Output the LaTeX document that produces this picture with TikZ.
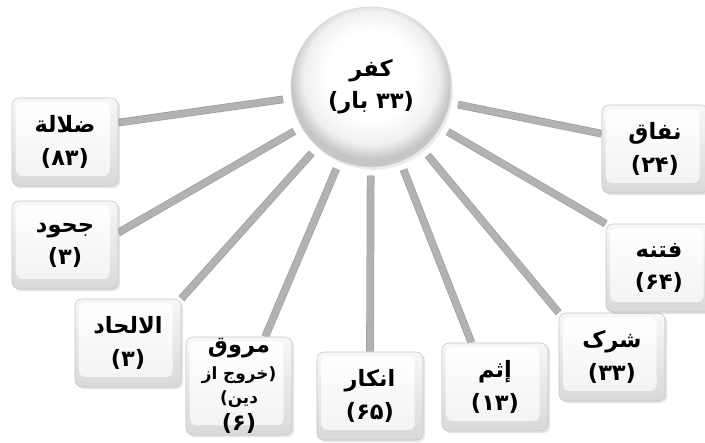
\documentclass[tikz,border=0pt]{standalone}
\usepackage{fontspec}
\usetikzlibrary{shadows,backgrounds}
\newfontfamily\farsi[Script=Arabic]{DejaVu Sans}
\newfontfamily\latn{DejaVu Sans}
\TeXXeTstate=1
\newcommand{\fa}[1]{\beginR #1\endR}
\newcommand{\lp}{{\latn(}}
\newcommand{\rp}{{\latn)}}
\pgfdeclareradialshading{orb}{\pgfpoint{0bp}{5bp}}{color(0bp)=(white); color(14bp)=(white); color(21bp)=(gray!12); color(25bp)=(gray!45); color(50bp)=(gray!45)}
\tikzset{
  keycap/.style={draw=gray!45, rounded corners=5pt, top color=gray!6, bottom color=gray!30,
    minimum width=2.65cm, minimum height=2.2cm, align=center, inner sep=1pt,
    drop shadow={opacity=0.2, shadow xshift=1.5pt, shadow yshift=-1.5pt},
    path picture={\shade[rounded corners=4pt, top color=white, bottom color=gray!10]
      ([shift={(3pt,-3pt)}]path picture bounding box.north west) rectangle
      ([shift={(-6pt,7pt)}]path picture bounding box.south east);}},
  link/.style={draw=gray!75, line width=0.5pt, double=gray!60, double distance=4.5pt, shorten <=6pt}
}

\begin{document}
\begin{tikzpicture}[x=0.025cm,y=-0.025cm,every node/.style={font=\farsi\bfseries\fontsize{16}{23}\selectfont}]
  \useasboundingbox (0,0) rectangle (705,442);
  \node[circle, minimum size=4cm, shading=orb, draw=gray!30, align=center,
        drop shadow={opacity=0.15, shadow xshift=1.5pt, shadow yshift=-2pt}] (kufr) at (371,87) {\fa{کفر}\\\lp\fa{۳۳ بار}\rp};
  \node[keycap] (zalala) at (65,142) {\fa{ضلالة}\\(۸۳)};
  \node[keycap] (juhud) at (65,245) {\fa{جحود}\\(۳)};
  \node[keycap] (ilhad) at (128,343) {\fa{الالحاد}\\(۳)};
  \node[keycap, minimum height=2.45cm] (muruq) at (239,386) {\fa{مروق}\\[-4pt]
    {\fontsize{12}{14}\selectfont\fa{خروج از}\rp}\\[-6pt]
    {\fontsize{12}{14}\selectfont\lp\fa{دین}}\\[-4pt](۶)};
  \node[keycap] (inkar) at (370,396) {\fa{انکار}\\(۶۵)};
  \node[keycap] (ithm) at (495,387) {\fa{إثم}\\(۱۳)};
  \node[keycap] (shirk) at (612,357) {\fa{شرک}\\(۳۳)};
  \node[keycap] (fitna) at (659,268) {\fa{فتنه}\\(۶۴)};
  \node[keycap] (nifaq) at (655,149) {\fa{نفاق}\\(۲۴)};
  \begin{scope}[on background layer]
    \draw[link] (kufr) -- (zalala.20);
    \draw[link] (kufr) -- (juhud.13);
    \draw[link] (kufr) -- (ilhad.north east);
    \draw[link] (kufr) -- (muruq.62);
    \draw[link] (kufr) -- (inkar.north);
    \draw[link] (kufr) -- (ithm.118);
    \draw[link] (kufr) -- (shirk.north west);
    \draw[link] (kufr) -- (fitna.north west);
    \draw[link] (kufr) -- (nifaq.164);
  \end{scope}
\end{tikzpicture}
\end{document}
